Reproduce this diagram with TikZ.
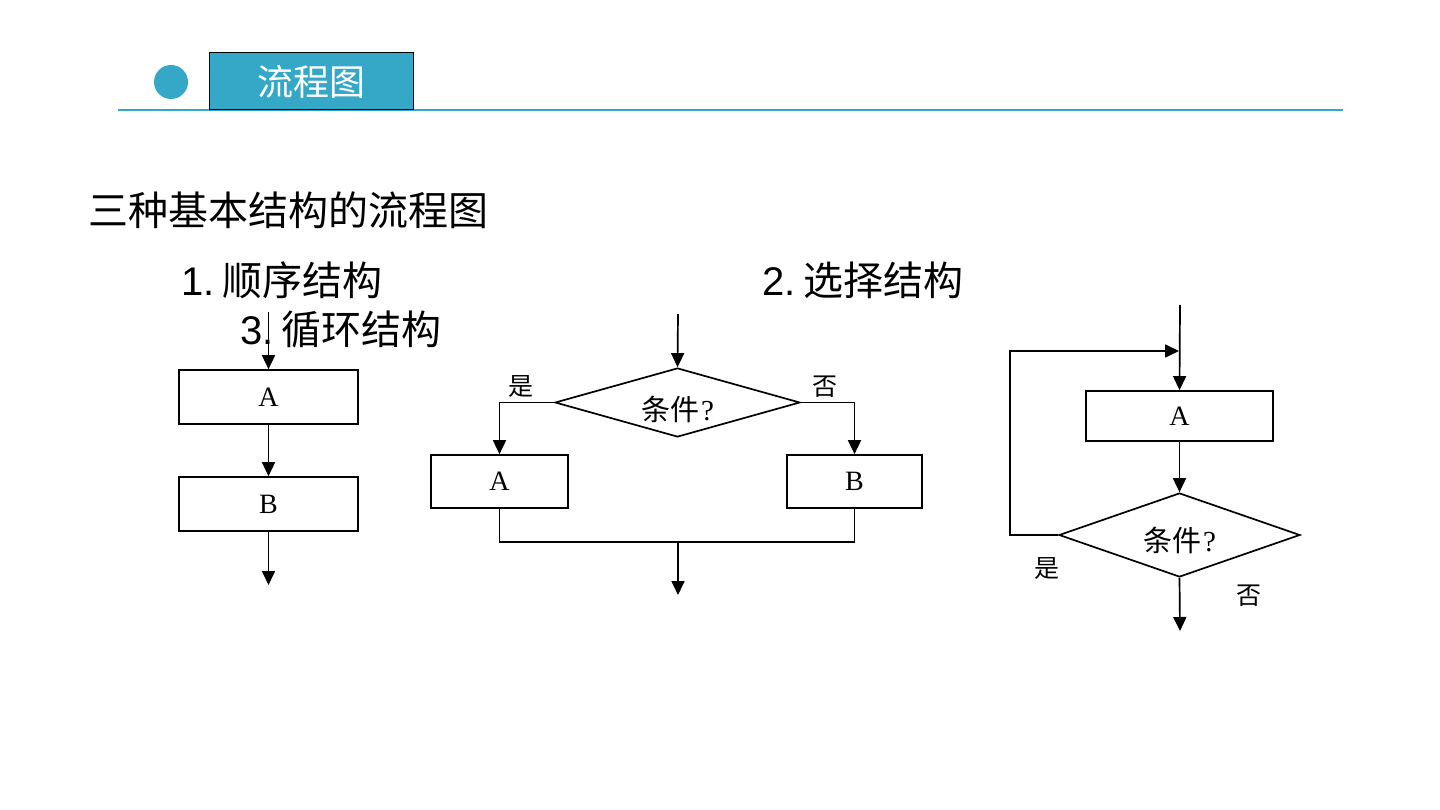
\documentclass[tikz,border=0pt]{standalone}
\usepackage{fontspec}
\setmainfont{Liberation Serif}
\newfontfamily\cjk{Noto Sans CJK SC}
\newfontfamily\arial{Liberation Sans}
\usetikzlibrary{arrows.meta,shapes.geometric}
\definecolor{teal1}{RGB}{52,168,198}
\tikzset{
  stepbox/.style={draw=black, line width=1.7pt, fill=white, inner sep=0pt, font=\fontsize{28}{30}\selectfont},
  decbox/.style={draw=black, line width=1.7pt, shape=diamond, aspect=3.5, inner sep=0pt, font=\fontsize{29}{30}\selectfont},
  flow/.style={line width=1.7pt, -{Triangle[length=14pt,width=13pt]}},
  plain/.style={line width=1.7pt},
  lbl/.style={font=\cjk\fontsize{25}{28}\selectfont, inner sep=0pt},
  heading/.style={anchor=base west, inner sep=0pt, font=\fontsize{40}{44}\selectfont},
}
\newcommand{\condtext}[1]{\raisebox{#1}[0pt][0pt]{{\cjk 条件}\hspace{2pt}?}}
\begin{document}
\begin{tikzpicture}[x=1pt,y=-1pt]
\useasboundingbox (0,0) rectangle (1440,810);
% header
\draw[teal1, line width=1.2pt] (118,110) -- (1343,110);
\node[circle, fill=teal1, minimum size=34pt, inner sep=0pt] (dot) at (171,82) {};
\node[draw=black, fill=teal1, line width=1pt, minimum width=204pt, minimum height=57pt, inner sep=0pt,
      text=white, font=\cjk\fontsize{36}{40}\selectfont] (hdr) at (311,81.5) {流程图};
% headings
\node[heading] (title) at (88,226) {\cjk 三种基本结构的流程图};
\node[heading] (h1) at (181,296) {\arial 1.\hspace{8pt}\cjk 顺序结构};
\node[heading] (h2) at (762,296) {\arial 2.\hspace{8pt}\cjk 选择结构};
\node[heading] (h3) at (240,344) {\arial 3.\hspace{8pt}\cjk 循环结构};
% 1. sequence
\coordinate (s0) at (268.5,312);
\node[stepbox, minimum width=179pt, minimum height=54pt] (sA) at (268.5,397) {A};
\node[stepbox, minimum width=179pt, minimum height=54pt] (sB) at (268.5,504) {B};
\coordinate (s3) at (268.5,585);
\draw[flow] (s0) -- (sA.north);
\draw[flow] (sA.south) -- (sB.north);
\draw[flow] (sB.south) -- (s3);
% 2. selection
\coordinate (c0) at (678,314);
\node[decbox, minimum width=245pt, minimum height=69pt] (d1) at (677.5,402.5) {\condtext{-18pt}};
\node[stepbox, minimum width=137pt, minimum height=53pt] (selA) at (499.5,481.5) {A};
\node[stepbox, minimum width=135pt, minimum height=53pt] (selB) at (854.5,481.5) {B};
\coordinate (mj) at (678,542);
\coordinate (c3) at (678,595);
\draw[flow] (c0) -- (d1.north);
\draw[flow] (d1.west) -| (selA.north);
\draw[flow] (d1.east) -| (selB.north);
\draw[plain] (selA.south) |- (mj) -| (selB.south);
\draw[flow] (mj) -- (c3);
\node[lbl] (yes1) at (521,387) {是};
\node[lbl] (no1) at (825,387) {否};
% 3. loop
\coordinate (l0) at (1180,305);
\node[stepbox, minimum width=187pt, minimum height=50pt] (lA) at (1179.5,416) {A};
\node[decbox, minimum width=241pt, minimum height=84pt] (d2) at (1179.5,535) {\condtext{-16pt}};
\coordinate (lc) at (1010,535);
\coordinate (lm) at (1179,351);
\coordinate (l3) at (1180,631);
\draw[flow] (l0) -- (lA.north);
\draw[flow] (lA.south) -- (d2.north);
\draw[flow] (d2.west) -- (lc) |- (lm);
\draw[flow] (d2.south) -- (l3);
\node[lbl] (yes2) at (1047,569) {是};
\node[lbl] (no2) at (1249,596) {否};
\end{tikzpicture}
\end{document}
